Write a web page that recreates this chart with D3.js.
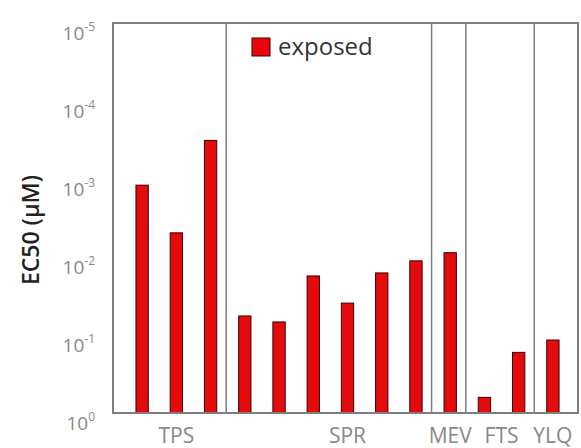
<!DOCTYPE html>
<html><head><meta charset="utf-8">
<script src="https://cdn.jsdelivr.net/npm/d3@7"></script>
<style>body{margin:0;background:#fff}svg{display:block}text{font-family:"Open Sans",sans-serif}</style>
</head><body><svg id="c" width="581" height="448"></svg>
<script>
const groups = ["TPS","SPR","MEV","FTS","YLQ"];
const groupCounts = [3,6,1,2,1];
const groupLabelBar = [1,6,9,10.5,12];
const values = [1.2e-3, 4.9e-3, 3.2e-4, 0.057, 0.068, 0.0175, 0.039, 0.016, 0.0112, 0.0088, 0.63, 0.167, 0.116];
const yTicks = [1e-5,1e-4,1e-3,1e-2,1e-1,1];
const tickExp = ["-5","-4","-3","-2","-1","0"];
const seriesName = "exposed";

const svg = d3.select("#c");
const L=113, R=578, T=23, B=413;
const idx = values.map((d,i)=>i);
const x = d3.scaleBand().domain(idx).range([125,570]).paddingInner(0.64).paddingOuter(0.32);
const y = d3.scaleLog().domain([1,1e-5]).range([B,T]);
const gray="#7d7d7d";

// bars
svg.append("g").selectAll("rect").data(values).join("rect")
  .attr("x",(d,i)=>x(i)).attr("width",x.bandwidth())
  .attr("y",d=>y(d)).attr("height",d=>B-y(d))
  .attr("fill","#e30b0b").attr("stroke","#3a0000").attr("stroke-width",1);

// separators
let cum=0; const seps=[];
groupCounts.slice(0,-1).forEach(c=>{cum+=c; seps.push(cum);});
const step=x.step();
svg.append("g").selectAll("line").data(seps).join("line")
  .attr("x1",i=>x(i)+x.bandwidth()/2-step/2-1.5).attr("x2",i=>x(i)+x.bandwidth()/2-step/2-1.5)
  .attr("y1",T).attr("y2",B).attr("stroke",gray).attr("stroke-width",1.5);

// frame
svg.append("rect").attr("x",L).attr("y",T).attr("width",R-L).attr("height",B-T)
  .attr("fill","none").attr("stroke",gray).attr("stroke-width",2);

// y axis
const yAxis = d3.axisLeft(y).tickValues(yTicks).tickSize(0).tickFormat("");
const ga = svg.append("g").attr("transform",`translate(${L},0)`).call(yAxis);
ga.select(".domain").remove();
const tl = svg.append("g").selectAll("text").data(yTicks).join("text")
  .attr("x",L-18).attr("y",d=>y(d)+17).attr("text-anchor","end")
  .attr("fill","#888").attr("font-size",19);
tl.append("tspan").text("10");
tl.append("tspan").attr("dy",-9).attr("font-size",12).text((d,i)=>tickExp[i]);

// y title
svg.append("text").attr("transform","translate(39,230) rotate(-90)")
  .attr("text-anchor","middle").attr("font-size",23).attr("font-weight",600).attr("fill","#222")
  .text("EC50 (\u00B5M)");

// x group labels
svg.append("g").selectAll("text").data(groups).join("text")
  .attr("x",(g,i)=>x(0)+x.bandwidth()/2+groupLabelBar[i]*step)
  .attr("y",443).attr("text-anchor","middle").attr("font-size",21).attr("fill","#888")
  .text(d=>d);

// legend
svg.append("rect").attr("x",252).attr("y",38).attr("width",18).attr("height",18)
  .attr("fill","#e8060a").attr("stroke","#400").attr("stroke-width",1);
svg.append("text").attr("x",278).attr("y",55).attr("font-size",24).attr("fill","#333").text(seriesName);
</script></body></html>
